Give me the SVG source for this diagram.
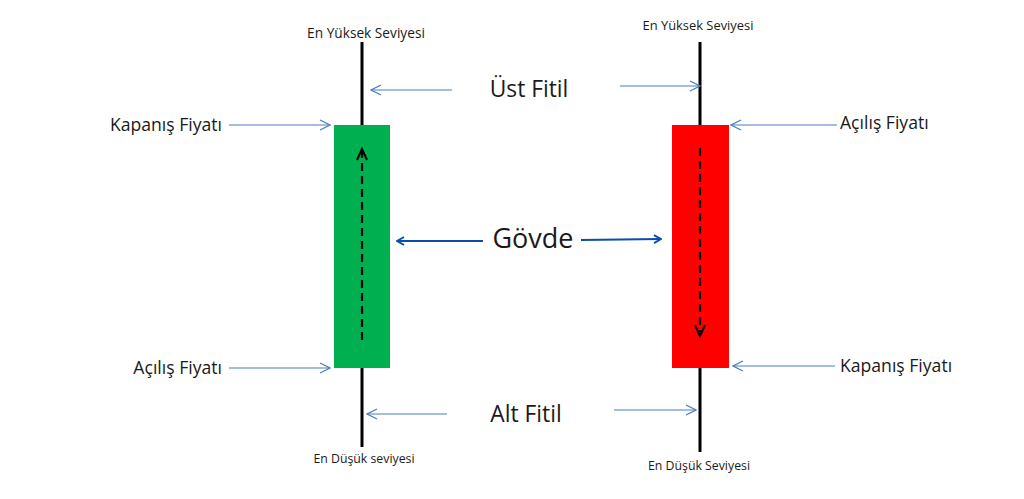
<svg xmlns="http://www.w3.org/2000/svg" width="1024" height="499" viewBox="0 0 1024 499">
<style>
text{font-family:"Open Sans","Noto Sans","Liberation Sans",sans-serif;fill:#1a1a1a}
.s{font-size:13.7px}
.s2{font-size:12.9px}
.s3{font-size:12.3px}
.m{font-size:17.6px}
.l{font-size:22.8px}
.xl{font-size:27px}
.wick{stroke:#000;stroke-width:3}
.thin{stroke:#4a7ebb;stroke-width:1.2;fill:none;marker-end:url(#open)}
.bold{stroke:#0a4dad;stroke-width:2.2;fill:none;marker-end:url(#openb)}
.dash{stroke:#000;stroke-width:2.2;stroke-dasharray:8 5;fill:none}
</style>
<defs>
<marker id="open" viewBox="0 0 12 12" refX="11" refY="6" markerWidth="12" markerHeight="12" markerUnits="userSpaceOnUse" orient="auto">
<path d="M1,1 L11,6 L1,11" fill="none" stroke="#4a7ebb" stroke-width="1.3"/>
</marker>
<marker id="openb" viewBox="0 0 10 10" refX="9" refY="5" markerWidth="10" markerHeight="10" markerUnits="userSpaceOnUse" orient="auto">
<path d="M2,1 L9,5 L2,9" fill="none" stroke="#0a4dad" stroke-width="2"/>
</marker>
</defs>
<rect width="1024" height="499" fill="#fff"/>
<g id="green-candle">
<line class="wick" x1="362" y1="42" x2="362" y2="447"/>
<rect x="334" y="125" width="56" height="243" fill="#00b050"/>
<line class="dash" x1="362" y1="340" x2="362" y2="152"/>
<path d="M357,160 L362,149 L367,160" fill="none" stroke="#000" stroke-width="2"/>
</g>
<g id="red-candle">
<line class="wick" x1="700" y1="42" x2="700" y2="452"/>
<rect x="672" y="125" width="57" height="243" fill="#ff0000"/>
<line class="dash" x1="700" y1="148" x2="700" y2="332"/>
<path d="M695,325 L700,336 L705,325" fill="none" stroke="#000" stroke-width="2"/>
</g>
<g id="labels">
<text class="s" x="366" y="38" text-anchor="middle">En Yüksek Seviyesi</text>
<text class="s2" x="698" y="30" text-anchor="middle">En Yüksek Seviyesi</text>
<text class="s3" x="364" y="463" text-anchor="middle">En Düşük seviyesi</text>
<text class="s3" x="699" y="470" text-anchor="middle">En Düşük Seviyesi</text>
<text class="m" x="222" y="131" text-anchor="end">Kapanış Fiyatı</text>
<text class="m" x="222" y="374" text-anchor="end">Açılış Fiyatı</text>
<text class="m" x="840" y="129">Açılış Fiyatı</text>
<text class="m" x="840" y="372">Kapanış Fiyatı</text>
<text class="l" x="529" y="97" text-anchor="middle">Üst Fitil</text>
<text class="l" x="526" y="422" text-anchor="middle">Alt Fitil</text>
<text class="xl" x="533" y="248" text-anchor="middle">Gövde</text>
</g>
<g id="connectors">
<line class="thin" x1="452" y1="90" x2="371" y2="90"/>
<line class="thin" x1="620" y1="86" x2="700" y2="86"/>
<line class="thin" x1="229" y1="125" x2="330" y2="125"/>
<line class="thin" x1="229" y1="368" x2="330" y2="368"/>
<line class="thin" x1="837" y1="125" x2="731" y2="125"/>
<line class="thin" x1="835" y1="366" x2="733" y2="366"/>
<line class="thin" x1="447" y1="414" x2="367" y2="414"/>
<line class="thin" x1="614" y1="410" x2="696" y2="410"/>
<line class="bold" x1="483" y1="241" x2="397" y2="241"/>
<line class="bold" x1="581" y1="240" x2="661" y2="239"/>
</g>
</svg>
